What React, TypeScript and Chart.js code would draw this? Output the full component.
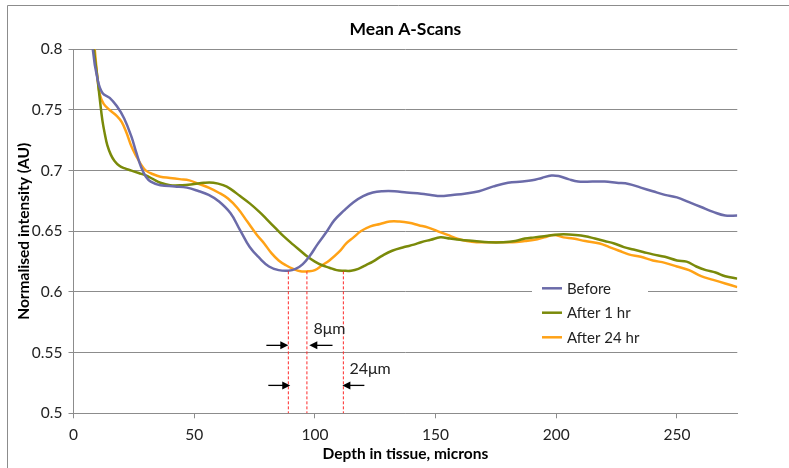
import React, { useEffect, useRef } from "react";
import { Chart, registerables } from "chart.js";

Chart.register(...registerables);

const FONT = "Lato, 'Open Sans', sans-serif";

// Depth (microns) / normalised intensity for each series
const beforeDepth = [6, 8, 10, 12, 15, 18, 21, 24, 26, 28, 30, 32, 36, 42, 47, 52, 56, 60, 65, 69, 73, 77, 81, 85, 89, 92, 95, 98, 101, 105, 108, 112, 116, 120, 124, 128, 133, 138, 144, 148, 152, 157, 162, 168, 174, 180, 186, 190, 194, 198, 201, 205, 209, 215, 220, 225, 230, 235, 240, 245, 250, 255, 260, 265, 270, 275];
const beforeValues = [0.86, 0.8, 0.775, 0.764, 0.76, 0.753, 0.743, 0.728, 0.715, 0.703, 0.695, 0.691, 0.688, 0.687, 0.686, 0.683, 0.68, 0.675, 0.665, 0.651, 0.637, 0.628, 0.621, 0.618, 0.6175, 0.619, 0.623, 0.63, 0.639, 0.65, 0.659, 0.667, 0.674, 0.679, 0.682, 0.683, 0.683, 0.682, 0.681, 0.68, 0.679, 0.68, 0.681, 0.683, 0.687, 0.69, 0.691, 0.692, 0.694, 0.696, 0.6955, 0.693, 0.691, 0.691, 0.691, 0.69, 0.689, 0.686, 0.683, 0.68, 0.678, 0.674, 0.67, 0.666, 0.663, 0.663];

const after1Depth = [6, 8.5, 10, 11, 12, 13, 14, 15.5, 17, 19, 21, 24, 27, 30, 33, 36, 40, 45, 50, 54, 58, 62, 65, 69, 73, 77, 80, 84, 87, 91, 94, 97, 100, 103, 106, 109, 112, 115, 118, 121, 124, 128, 132, 137, 141, 144, 148, 152, 156, 160, 166, 172, 178, 183, 187, 191, 195, 199, 203, 208, 212, 216, 220, 224, 228, 232, 236, 240, 245, 250, 254, 258, 262, 266, 270, 275];
const after1Values = [0.87, 0.8, 0.775, 0.757, 0.741, 0.73, 0.721, 0.713, 0.708, 0.704, 0.702, 0.7, 0.698, 0.696, 0.693, 0.69, 0.688, 0.688, 0.689, 0.69, 0.69, 0.688, 0.685, 0.679, 0.673, 0.666, 0.66, 0.652, 0.646, 0.639, 0.634, 0.629, 0.625, 0.622, 0.62, 0.618, 0.6175, 0.6175, 0.619, 0.622, 0.625, 0.63, 0.634, 0.637, 0.639, 0.641, 0.643, 0.645, 0.644, 0.643, 0.642, 0.641, 0.641, 0.642, 0.644, 0.645, 0.646, 0.647, 0.6475, 0.647, 0.646, 0.644, 0.642, 0.64, 0.637, 0.635, 0.633, 0.631, 0.629, 0.626, 0.625, 0.621, 0.618, 0.616, 0.613, 0.611];

const after24Depth = [6, 8.8, 10, 11, 12.5, 15, 18, 20, 22, 24, 26, 28, 30, 33, 36, 40, 44, 48, 52, 56, 60, 64, 68, 72, 76, 79, 82, 85, 88, 91, 94, 97, 100, 103, 106, 110, 113, 116, 119, 123, 127, 131, 135, 139, 143, 147, 151, 155, 159, 163, 167, 172, 177, 182, 187, 191, 195, 199, 203, 207, 212, 218, 222, 226, 230, 235, 240, 245, 250, 255, 260, 265, 270, 275];
const after24Values = [0.86, 0.8, 0.775, 0.762, 0.755, 0.75, 0.745, 0.74, 0.731, 0.72, 0.712, 0.705, 0.7, 0.697, 0.695, 0.694, 0.693, 0.692, 0.689, 0.686, 0.682, 0.677, 0.669, 0.658, 0.647, 0.64, 0.632, 0.626, 0.622, 0.619, 0.617, 0.617, 0.618, 0.622, 0.626, 0.633, 0.64, 0.645, 0.65, 0.654, 0.656, 0.658, 0.658, 0.657, 0.655, 0.653, 0.65, 0.647, 0.644, 0.642, 0.641, 0.641, 0.641, 0.641, 0.642, 0.643, 0.645, 0.647, 0.645, 0.644, 0.642, 0.64, 0.637, 0.634, 0.631, 0.629, 0.626, 0.624, 0.621, 0.618, 0.613, 0.61, 0.607, 0.604];

const seriesNames = ["Before", "After 1 hr", "After 24 hr"];
const seriesColors = ["#6b6ba9", "#7a8a0a", "#ffa216"];

// Annotation: depth of minima and the shift arrows
const minimaDepths = [89, 96.7, 111.8];
const minimaTop = 0.617;
const arrowRows = [
  { y: 0.556, right: [79.9, 89], left: [107.3, 97.7] },
  { y: 0.523, right: [80.7, 89.8], left: [120.5, 111.4] },
];
const shiftLabels = [
  { text: "8μm", x: 99.4, y: 0.57 },
  { text: "24μm", x: 114.3, y: 0.537 },
];

const yTicks = [0.5, 0.55, 0.6, 0.65, 0.7, 0.75, 0.8];

const toPoints = (xs: number[], ys: number[]) => xs.map((x, i) => ({ x, y: ys[i] }));

const GRID = "#8c8c8c";

const decorPlugin = {
  id: "decor",
  beforeDraw(chart: any) {
    const { ctx, width, height } = chart;
    ctx.save();
    ctx.fillStyle = "#ffffff";
    ctx.fillRect(0, 0, width, height);
    ctx.strokeStyle = GRID;
    ctx.lineWidth = 1;
    ctx.beginPath();
    ctx.moveTo(7.5, height);
    ctx.lineTo(7.5, 5.5);
    ctx.lineTo(width, 5.5);
    ctx.stroke();
    ctx.restore();
  },
  afterDatasetsDraw(chart: any) {
    const { ctx, scales, chartArea } = chart;
    const xs = scales.x;
    const ys = scales.y;
    ctx.save();
    const drawArrow = (x1: number, x2: number, y: number) => {
      const p1 = xs.getPixelForValue(x1);
      const p2 = xs.getPixelForValue(x2);
      const py = ys.getPixelForValue(y);
      const dir = p2 > p1 ? 1 : -1;
      ctx.strokeStyle = "#000";
      ctx.fillStyle = "#000";
      ctx.lineWidth = 1.3;
      ctx.beginPath();
      ctx.moveTo(p1, py);
      ctx.lineTo(p2 - dir * 6, py);
      ctx.stroke();
      ctx.beginPath();
      ctx.moveTo(p2, py);
      ctx.lineTo(p2 - dir * 8, py - 4);
      ctx.lineTo(p2 - dir * 8, py + 4);
      ctx.closePath();
      ctx.fill();
    };
    arrowRows.forEach((r) => {
      drawArrow(r.right[0], r.right[1], r.y);
      drawArrow(r.left[0], r.left[1], r.y);
    });
    ctx.fillStyle = "#222";
    ctx.font = `16px ${FONT}`;
    ctx.textBaseline = "middle";
    ctx.textAlign = "left";
    shiftLabels.forEach((l) => {
      ctx.fillText(l.text, xs.getPixelForValue(l.x), ys.getPixelForValue(l.y));
    });
    // legend
    ctx.fillStyle = "#ffffff";
    ctx.fillRect(532, 276, 116, 72);
    const legendY = [288.3, 312.7, 337.3];
    seriesNames.forEach((name, i) => {
      ctx.strokeStyle = seriesColors[i];
      ctx.lineWidth = 2.5;
      ctx.beginPath();
      ctx.moveTo(542, legendY[i]);
      ctx.lineTo(562, legendY[i]);
      ctx.stroke();
      ctx.fillStyle = "#222";
      ctx.font = `15px ${FONT}`;
      ctx.textBaseline = "middle";
      ctx.fillText(name, 567, legendY[i] + 0.5);
    });
    // title
    ctx.fillStyle = "#000";
    ctx.font = `bold 17.5px ${FONT}`;
    ctx.textAlign = "center";
    ctx.textBaseline = "middle";
    ctx.fillText("Mean A-Scans", (chartArea.left + chartArea.right) / 2, 29);
    ctx.restore();
  },
};

export default function App() {
  const ref = useRef<HTMLCanvasElement | null>(null);
  useEffect(() => {
    if (!ref.current) return;
    const lineDs = (label: string, xs: number[], ys: number[], color: string) => ({
      label,
      data: toPoints(xs, ys),
      borderColor: color,
      backgroundColor: color,
      borderWidth: 2.5,
      pointRadius: 0,
      tension: 0.4,
      fill: false,
    });
    const dashDs = minimaDepths.map((d, i) => ({
      label: "min" + i,
      data: [
        { x: d, y: minimaTop },
        { x: d, y: 0.5 },
      ],
      borderColor: "#ff2a2a",
      borderWidth: 1,
      borderDash: [3, 2],
      pointRadius: 0,
      fill: false,
    }));
    const chart = new Chart(ref.current, {
      type: "line",
      data: {
        datasets: [
          ...dashDs,
          lineDs(seriesNames[0], beforeDepth, beforeValues, seriesColors[0]),
          lineDs(seriesNames[1], after1Depth, after1Values, seriesColors[1]),
          lineDs(seriesNames[2], after24Depth, after24Values, seriesColors[2]),
        ],
      },
      options: {
        animation: false,
        responsive: true,
        maintainAspectRatio: false,
        layout: { padding: { left: 8, right: 51.7, top: 49.3, bottom: 0 } },
        plugins: {
          legend: { display: false },
          title: { display: false },
          tooltip: { enabled: false },
        },
        scales: {
          x: {
            type: "linear",
            min: 0,
            max: 275,
            afterFit: (s: any) => {
              s.height = 468 - 413.3;
            },
            ticks: {
              stepSize: 50,
              includeBounds: false,
              maxRotation: 0,
              color: "#222",
              padding: 7,
              font: { family: FONT, size: 15.5 },
            },
            grid: { drawOnChartArea: false, drawTicks: true, tickLength: 5, color: GRID },
            border: { color: GRID },
            title: {
              display: true,
              text: "Depth in tissue, microns",
              color: "#000",
              font: { family: FONT, size: 15.5, weight: "bold" },
              padding: { top: 0, bottom: 5 },
            },
          },
          y: {
            type: "linear",
            min: yTicks[0],
            max: yTicks[yTicks.length - 1],
            afterFit: (s: any) => {
              s.width = 65.5;
            },
            afterBuildTicks: (s: any) => {
              s.ticks = yTicks.map((v) => ({ value: v }));
            },
            ticks: {
              color: "#222",
              padding: 6,
              font: { family: FONT, size: 15.5 },
              callback: (v: any) => String(Number(Number(v).toFixed(2))),
            },
            grid: { drawTicks: true, tickLength: 5, color: GRID },
            border: { color: GRID },
            title: {
              display: true,
              text: "Normalised intensity (AU)",
              color: "#000",
              font: { family: FONT, size: 15.5, weight: "bold" },
              padding: { top: 7, bottom: 0 },
            },
          },
        },
      },
      plugins: [decorPlugin],
    });
    return () => chart.destroy();
  }, []);
  return (
    <div style={{ position: "fixed", left: 0, top: 0, width: 789, height: 468 }}>
      <canvas ref={ref} />
    </div>
  );
}
